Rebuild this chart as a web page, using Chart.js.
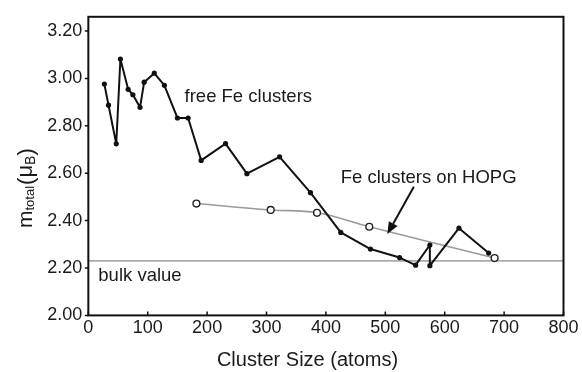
<!DOCTYPE html>
<html>
<head>
<meta charset="utf-8">
<script src="https://cdn.jsdelivr.net/npm/chart.js@4/dist/chart.umd.min.js"></script>
<style>
  html, body { margin: 0; padding: 0; background: #fff; }
  #wrap { width: 582px; height: 372px; }
</style>
</head>
<body>
<div id="wrap"><canvas id="c" width="582" height="372"></canvas></div>
<script>
// ---- data ----
const freeSize   = [27, 34, 47, 54, 67, 75, 87, 94, 111, 128, 150, 168, 190, 231, 267, 322, 374, 425, 475, 524, 551, 575, 575, 624, 674];
const freeMoment = [2.976, 2.887, 2.724, 3.082, 2.954, 2.931, 2.878, 2.984, 3.022, 2.971, 2.833, 2.833, 2.654, 2.725, 2.598, 2.669, 2.518, 2.350, 2.280, 2.244, 2.212, 2.297, 2.210, 2.368, 2.263];
const hopgSize   = [182, 307, 385, 473, 684];
const hopgMoment = [2.472, 2.445, 2.433, 2.374, 2.242];
const bulkValue  = 2.23;
const xTickValues = [0, 100, 200, 300, 400, 500, 600, 700, 800];
const yTickValues = [2.00, 2.20, 2.40, 2.60, 2.80, 3.00, 3.20];
const labelFree = 'free Fe clusters';
const labelHopg = 'Fe clusters on HOPG';
const labelBulk = 'bulk value';
const xTitle = 'Cluster Size (atoms)';

const FONT = '"Liberation Sans", Arial, Helvetica, sans-serif';
const TXT = '#1a1a1a';

const toPts = (xs, ys) => xs.map((x, i) => ({x: x, y: ys[i]}));

const decor = {
  id: 'decor',
  afterDatasetsDraw(chart) {
    const ctx = chart.ctx;
    const xs = chart.scales.x, ys = chart.scales.y;
    const a = chart.chartArea;
    ctx.save();
    // frame
    ctx.strokeStyle = '#111';
    ctx.lineWidth = 2;
    ctx.strokeRect(a.left, a.top, a.right - a.left, a.bottom - a.top);
    // y ticks (outward)
    ctx.lineWidth = 1.5;
    ctx.beginPath();
    yTickValues.forEach(v => {
      const py = ys.getPixelForValue(v);
      ctx.moveTo(a.left - 3.5, py); ctx.lineTo(a.left, py);
    });
    // x ticks (inward)
    xTickValues.forEach(v => {
      const px = xs.getPixelForValue(v);
      ctx.moveTo(px, a.bottom); ctx.lineTo(px, a.bottom - 4);
    });
    ctx.stroke();

    // annotations
    ctx.fillStyle = TXT;
    ctx.textBaseline = 'alphabetic';
    ctx.textAlign = 'left';
    ctx.font = '18.5px ' + FONT;
    ctx.fillText(labelFree, xs.getPixelForValue(162), ys.getPixelForValue(2.899));
    ctx.fillText(labelHopg, xs.getPixelForValue(425), ys.getPixelForValue(2.557));
    ctx.fillText(labelBulk, xs.getPixelForValue(16.8), ys.getPixelForValue(2.147));

    // arrow
    const x0 = xs.getPixelForValue(548), y0 = ys.getPixelForValue(2.543);
    const x1 = xs.getPixelForValue(503.4), y1 = ys.getPixelForValue(2.343);
    const ang = Math.atan2(y1 - y0, x1 - x0);
    const hl = 12, hw = 5;
    const bx = x1 - hl * Math.cos(ang), by = y1 - hl * Math.sin(ang);
    ctx.strokeStyle = '#111';
    ctx.lineWidth = 2;
    ctx.beginPath(); ctx.moveTo(x0, y0); ctx.lineTo(bx, by); ctx.stroke();
    ctx.fillStyle = '#111';
    ctx.beginPath();
    ctx.moveTo(x1, y1);
    ctx.lineTo(bx + hw * Math.sin(ang), by - hw * Math.cos(ang));
    ctx.lineTo(bx - hw * Math.sin(ang), by + hw * Math.cos(ang));
    ctx.closePath(); ctx.fill();

    // x title
    ctx.fillStyle = TXT;
    ctx.textAlign = 'center';
    ctx.font = '20px ' + FONT;
    ctx.fillText(xTitle, 307.5, 366);

    // y title with subscripts, rotated
    ctx.translate(32, 228);
    ctx.rotate(-Math.PI / 2);
    ctx.textAlign = 'left';
    let cx = 0;
    const part = (t, size, dy) => {
      ctx.font = size + 'px ' + FONT;
      ctx.fillText(t, cx, dy);
      cx += ctx.measureText(t).width;
    };
    part('m', 21, 0);
    part('total', 13, 2);
    cx += 1;
    part('(', 22, 1);
    part('\u03BC', 22, 0);
    part('B', 14, 3);
    part(')', 22, 1);
    ctx.restore();
  }
};

new Chart(document.getElementById('c'), {
  type: 'line',
  data: {
    datasets: [
      {
        label: labelFree,
        data: toPts(freeSize, freeMoment),
        borderColor: '#111', borderWidth: 2,
        borderJoinStyle: 'round', borderCapStyle: 'round',
        pointRadius: 2.6, pointBackgroundColor: '#111', pointBorderWidth: 0,
        tension: 0, fill: false
      },
      {
        label: labelHopg,
        data: toPts(hopgSize, hopgMoment),
        borderColor: '#9a9a9a', borderWidth: 1.6,
        tension: 0.4,
        pointRadius: 3.4, pointBackgroundColor: '#fff',
        pointBorderColor: '#222', pointBorderWidth: 1.4,
        fill: false
      },
      {
        label: labelBulk,
        data: [{x: 0, y: bulkValue}, {x: 800, y: bulkValue}],
        borderColor: '#aaaaaa', borderWidth: 1.6,
        pointRadius: 0, fill: false
      }
    ]
  },
  options: {
    responsive: false,
    animation: false,
    devicePixelRatio: 1,
    layout: { padding: { left: 41.3, right: 18.5, top: 12, bottom: 31 } },
    plugins: { legend: { display: false }, tooltip: { enabled: false } },
    scales: {
      x: {
        type: 'linear', min: 0, max: 800,
        grid: { display: false, drawTicks: false },
        border: { display: false },
        afterBuildTicks: s => { s.ticks = xTickValues.map(v => ({value: v})); },
        ticks: { padding: 2, color: TXT, font: { family: FONT, size: 18 }, callback: v => String(v) }
      },
      y: {
        type: 'linear', min: 2.0, max: 3.26,
        grid: { display: false, drawTicks: false },
        border: { display: false },
        afterBuildTicks: s => { s.ticks = yTickValues.map(v => ({value: v})); },
        ticks: { padding: 6, color: TXT, font: { family: FONT, size: 18 }, callback: v => Number(v).toFixed(2) }
      }
    }
  },
  plugins: [decor]
});
</script>
</body>
</html>
